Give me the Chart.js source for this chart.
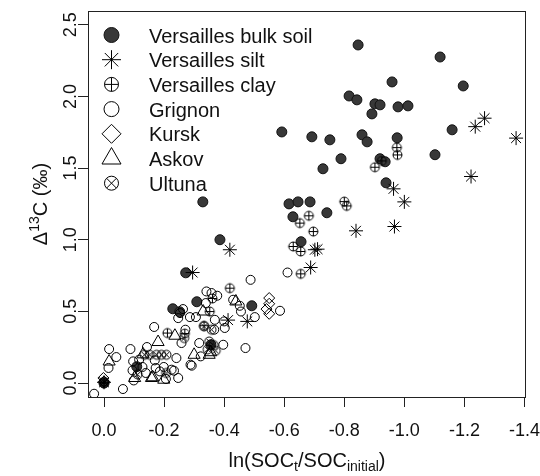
<!DOCTYPE html>
<html>
<head>
<meta charset="utf-8">
<script src="https://cdn.jsdelivr.net/npm/chart.js@4.4.0/dist/chart.umd.min.js"></script>
<style>
  body { margin: 0; background: #fff; }
  canvas { display: block; }
</style>
</head>
<body>
<canvas id="myChart" width="540" height="476"></canvas>
<script>
// values
const seriesNames = ['Versailles bulk soil', 'Versailles silt', 'Versailles clay', 'Grignon', 'Kursk', 'Askov', 'Ultuna'];

const bulkX = [-0.846,-1.119,-0.959,-1.196,-0.816,-0.842,-0.902,-0.919,-0.979,-1.012,-0.892,-0.592,-0.692,-0.752,-0.859,-0.876,-0.976,-1.159,-1.102,-0.789,-0.729,-0.919,-0.936,-0.939,-0.616,-0.646,-0.686,-0.742,-0.629,-0.656,-0.329,-0.386,-0.272,-0.309,-0.229,-0.252,-0.492,-0.109,0.000,-0.356];
const bulkY = [2.359,2.275,2.101,2.073,2.003,1.976,1.948,1.941,1.927,1.934,1.878,1.752,1.718,1.697,1.732,1.683,1.711,1.767,1.593,1.565,1.495,1.565,1.544,1.397,1.250,1.264,1.264,1.188,1.160,0.986,1.264,1.000,0.769,0.567,0.518,0.497,0.539,0.114,0.000,0.267];

const siltX = [-1.267,-1.236,-1.372,-1.222,-0.964,-1.000,-0.839,-0.967,-0.711,-0.702,-0.688,-0.419,-0.295,-0.413,-0.477,0.000];
const siltY = [1.848,1.789,1.709,1.441,1.355,1.264,1.062,1.092,0.934,0.930,0.806,0.930,0.771,0.439,0.430,0.005];

const clayX = [-0.975,-0.977,-0.925,-0.902,-0.800,-0.808,-0.682,-0.652,-0.697,-0.630,-0.655,-0.655,-0.419,-0.361,-0.352,-0.333,-0.269,-0.211,0.000];
const clayY = [1.643,1.592,1.550,1.506,1.266,1.236,1.167,1.116,1.057,0.953,0.918,0.762,0.662,0.590,0.499,0.400,0.345,0.349,0.000];

const grignonX = [0.033,-0.063,-0.017,-0.041,-0.015,-0.088,-0.097,-0.095,-0.099,-0.143,-0.128,-0.139,-0.167,-0.169,-0.186,-0.206,-0.199,-0.225,-0.247,-0.241,-0.258,-0.271,-0.247,-0.263,-0.288,-0.286,-0.306,-0.317,-0.341,-0.358,-0.377,-0.397,-0.430,-0.452,-0.488,-0.502,-0.471,-0.586,-0.611,-0.369,-0.402,-0.117,-0.172,-0.233,-0.253,-0.292,-0.367,-0.400,-0.339,-0.456,-0.322];
const grignonY = [-0.075,-0.042,0.237,0.181,0.105,0.237,0.151,0.088,0.018,0.251,0.112,0.070,0.391,0.158,0.081,0.028,0.112,0.093,0.035,0.174,0.279,0.372,0.453,0.516,0.128,0.460,0.460,0.279,0.639,0.628,0.609,0.267,0.581,0.539,0.720,0.460,0.244,0.504,0.771,0.441,0.384,0.163,0.105,0.086,0.488,0.121,0.372,0.430,0.558,0.499,0.186];

const kurskX = [-0.550,-0.550,-0.541,-0.550,0.002,0.000];
const kurskY = [0.593,0.553,0.516,0.483,0.035,0.010];

const askovX = [-0.017,-0.102,-0.158,-0.180,-0.236,-0.199,-0.300,-0.350,-0.330,-0.439,-0.130,-0.355,-0.162];
const askovY = [0.150,0.035,0.035,0.286,0.330,0.023,0.197,0.197,0.499,0.569,0.200,0.215,0.040];

const ultunaX = [-0.135,-0.152,-0.175,-0.191,-0.208,-0.333,-0.358,-0.350,-0.365,-0.345,-0.372,-0.207,-0.112,0.000,-0.267];
const ultunaY = [0.197,0.197,0.197,0.197,0.197,0.395,0.372,0.290,0.265,0.235,0.225,0.070,0.060,0.010,0.314];

const xTicks = [0, -0.2, -0.4, -0.6, -0.8, -1.0, -1.2, -1.4];
const yTicks = [0, 0.5, 1.0, 1.5, 2.0, 2.5];

function pts(xs, ys) {
    return xs.map((x, i) => ({ x: x, y: ys[i] }));
}

// circle with + or x inside, used as point image
function ringSymbol(kind, r) {
    const s = 2 * Math.ceil(r) + 3;
    const c = document.createElement('canvas');
    c.width = s; c.height = s;
    const g = c.getContext('2d');
    const m = s / 2;
    g.strokeStyle = '#000';
    g.lineWidth = 1;
    g.beginPath();
    g.arc(m, m, r, 0, Math.PI * 2);
    g.stroke();
    g.beginPath();
    if (kind == 'plus') {
        g.moveTo(m - r, m); g.lineTo(m + r, m);
        g.moveTo(m, m - r); g.lineTo(m, m + r);
    } else {
        const d = r * Math.SQRT1_2;
        g.moveTo(m - d, m - d); g.lineTo(m + d, m + d);
        g.moveTo(m - d, m + d); g.lineTo(m + d, m - d);
    }
    g.stroke();
    return c;
}

const clayImg = ringSymbol('plus', 4.5);
const ultunaImg = ringSymbol('cross', 4.5);

// legend symbols drawn by hand
function legendSymbol(ctx, i, x, y) {
    ctx.save();
    ctx.strokeStyle = '#000';
    ctx.lineWidth = 1;
    ctx.beginPath();
    if (i == 0) {
        ctx.arc(x, y, 7.5, 0, Math.PI * 2);
        ctx.fillStyle = '#383838';
        ctx.fill();
        ctx.strokeStyle = '#111';
        ctx.stroke();
    } else if (i == 1) {
        const r = 9.5;
        for (let k = 0; k < 4; k++) {
            const a = k * Math.PI / 4;
            ctx.moveTo(x - Math.cos(a) * r, y - Math.sin(a) * r);
            ctx.lineTo(x + Math.cos(a) * r, y + Math.sin(a) * r);
        }
        ctx.stroke();
    } else if (i == 2 || i == 6) {
        const r = 7;
        ctx.arc(x, y, r, 0, Math.PI * 2);
        ctx.stroke();
        ctx.beginPath();
        if (i == 2) {
            ctx.moveTo(x - r, y); ctx.lineTo(x + r, y);
            ctx.moveTo(x, y - r); ctx.lineTo(x, y + r);
        } else {
            const d = r * Math.SQRT1_2;
            ctx.moveTo(x - d, y - d); ctx.lineTo(x + d, y + d);
            ctx.moveTo(x - d, y + d); ctx.lineTo(x + d, y - d);
        }
        ctx.stroke();
    } else if (i == 3) {
        ctx.arc(x, y, 7.5, 0, Math.PI * 2);
        ctx.stroke();
    } else if (i == 4) {
        const r = 9.5;
        ctx.moveTo(x - r, y); ctx.lineTo(x, y - r);
        ctx.lineTo(x + r, y); ctx.lineTo(x, y + r);
        ctx.closePath();
        ctx.stroke();
    } else if (i == 5) {
        const r = 11;
        ctx.moveTo(x, y - r);
        ctx.lineTo(x + r * 0.866, y + r / 2);
        ctx.lineTo(x - r * 0.866, y + r / 2);
        ctx.closePath();
        ctx.stroke();
    }
    ctx.restore();
}

const decorations = {
    id: 'decorations',
    afterDraw(chart) {
        const ctx = chart.ctx;
        const a = chart.chartArea;
        const xs = chart.scales.x;
        const ys = chart.scales.y;
        ctx.save();
        // box
        ctx.strokeStyle = '#222';
        ctx.lineWidth = 1;
        ctx.strokeRect(Math.round(a.left) + 0.5, Math.round(a.top) + 0.5, Math.round(a.right - a.left) - 1, Math.round(a.bottom - a.top));
        ctx.fillStyle = '#111';

        // x tick labels
        ctx.font = '18px "Liberation Sans", Arial, sans-serif';
        ctx.textAlign = 'center';
        ctx.textBaseline = 'alphabetic';
        xTicks.forEach(v => {
            ctx.fillText(v.toFixed(1), xs.getPixelForValue(v), 436);
        });
        // y tick labels, rotated
        yTicks.forEach(v => {
            ctx.save();
            ctx.translate(75.5, ys.getPixelForValue(v));
            ctx.rotate(-Math.PI / 2);
            ctx.fillText(v.toFixed(1), 0, 0);
            ctx.restore();
        });

        // x title: ln(SOC_t/SOC_initial)
        const big = '20px "Liberation Sans", Arial, sans-serif';
        const small = '14px "Liberation Sans", Arial, sans-serif';
        const parts = [['ln(SOC', big, 0], ['t', small, 4], ['/SOC', big, 0], ['initial', small, 4], [')', big, 0]];
        let total = 0;
        parts.forEach(p => { ctx.font = p[1]; total += ctx.measureText(p[0]).width; });
        let cx = (a.left + a.right) / 2 - total / 2;
        ctx.textAlign = 'left';
        parts.forEach(p => {
            ctx.font = p[1];
            ctx.fillText(p[0], cx, 467 + p[2]);
            cx += ctx.measureText(p[0]).width;
        });

        // y title: Δ13C (‰)
        const yparts = [['\u0394', big, 0], ['13', small, -8], ['C (\u2030)', big, 0]];
        total = 0;
        yparts.forEach(p => { ctx.font = p[1]; total += ctx.measureText(p[0]).width; });
        ctx.save();
        ctx.translate(46.5, (a.top + a.bottom) / 2);
        ctx.rotate(-Math.PI / 2);
        cx = -total / 2;
        yparts.forEach(p => {
            ctx.font = p[1];
            ctx.fillText(p[0], cx, p[2]);
            cx += ctx.measureText(p[0]).width;
        });
        ctx.restore();

        // legend
        ctx.font = '20px "Liberation Sans", Arial, sans-serif';
        seriesNames.forEach((name, i) => {
            const y = 35 + i * 24.7;
            legendSymbol(ctx, i, 111.5, y);
            ctx.fillStyle = '#111';
            ctx.fillText(name, 149, y + 7.5);
        });
        ctx.restore();
    }
};

const ctx = document.getElementById('myChart').getContext('2d');
const myChart = new Chart(ctx, {
    type: 'scatter',
    data: {
        datasets: [{
            label: seriesNames[0],
            data: pts(bulkX, bulkY),
            pointStyle: 'circle',
            pointRadius: 5,
            backgroundColor: '#383838',
            borderColor: '#111',
            borderWidth: 1,
            order: 7
        }, {
            label: seriesNames[1],
            data: pts(siltX, siltY),
            pointStyle: 'star',
            pointRadius: 7,
            borderColor: '#000',
            borderWidth: 1,
            order: 6
        }, {
            label: seriesNames[2],
            data: pts(clayX, clayY),
            pointStyle: clayImg,
            order: 5
        }, {
            label: seriesNames[3],
            data: pts(grignonX, grignonY),
            pointStyle: 'circle',
            pointRadius: 4.5,
            backgroundColor: 'rgba(0,0,0,0)',
            borderColor: '#000',
            borderWidth: 1,
            order: 4
        }, {
            label: seriesNames[4],
            data: pts(kurskX, kurskY),
            pointStyle: 'rectRot',
            pointRadius: 5.5,
            backgroundColor: 'rgba(0,0,0,0)',
            borderColor: '#000',
            borderWidth: 1,
            order: 3
        }, {
            label: seriesNames[5],
            data: pts(askovX, askovY),
            pointStyle: 'triangle',
            pointRadius: 7,
            backgroundColor: 'rgba(0,0,0,0)',
            borderColor: '#000',
            borderWidth: 1,
            order: 2
        }, {
            label: seriesNames[6],
            data: pts(ultunaX, ultunaY),
            pointStyle: ultunaImg,
            order: 1
        }]
    },
    options: {
        responsive: false,
        animation: false,
        layout: { padding: { top: 11, right: 14, left: 0, bottom: 0 } },
        plugins: {
            legend: { display: false },
            tooltip: { enabled: false }
        },
        scales: {
            x: {
                type: 'linear',
                reverse: true,
                min: -1.405,
                max: 0.0533,
                afterBuildTicks: s => { s.ticks = xTicks.map(v => ({ value: v })); },
                afterFit: s => { s.height = 79; },
                ticks: { display: false },
                border: { display: false },
                grid: { drawOnChartArea: false, drawTicks: true, tickLength: 10, color: '#222', lineWidth: 1 }
            },
            y: {
                type: 'linear',
                min: -0.0976,
                max: 2.596,
                afterBuildTicks: s => { s.ticks = yTicks.map(v => ({ value: v })); },
                afterFit: s => { s.width = 88; },
                ticks: { display: false },
                border: { display: false },
                grid: { drawOnChartArea: false, drawTicks: true, tickLength: 10, color: '#222', lineWidth: 1 }
            }
        }
    },
    plugins: [decorations]
});
</script>
</body>
</html>
